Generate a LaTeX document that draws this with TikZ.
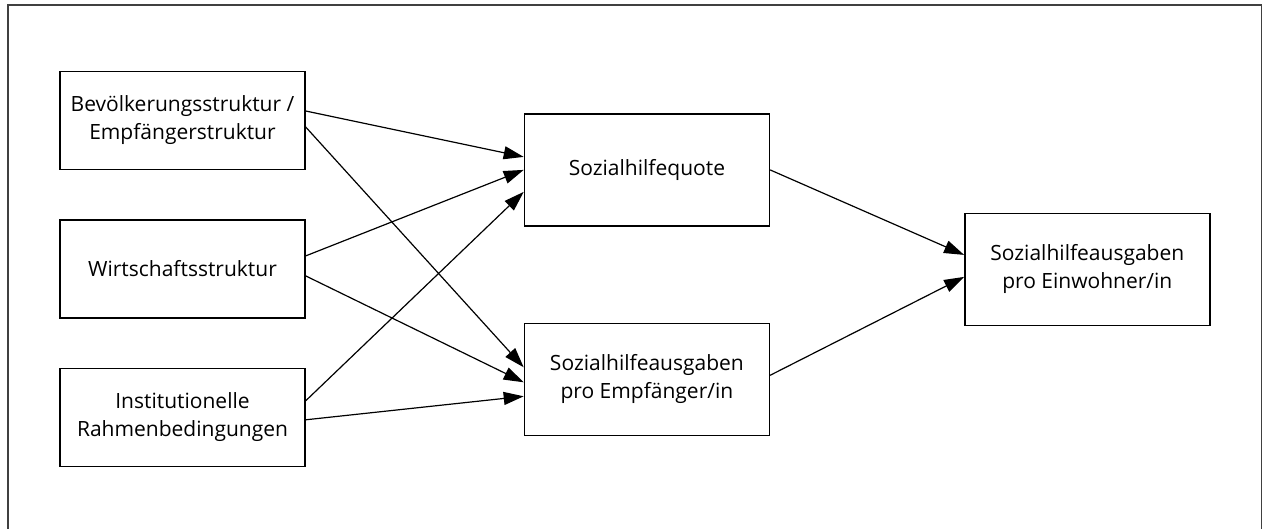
\documentclass[tikz,border=0pt]{standalone}
\usepackage{fontspec}
\setmainfont{Open Sans}
\usetikzlibrary{arrows.meta,positioning}

\begin{document}
\begin{tikzpicture}[
  x=1pt, y=1pt,
  node distance=49pt and 218pt,
  box/.style={draw, line width=1.4pt, align=center, minimum width=245pt, minimum height=98pt, inner sep=2pt, font=\fontsize{21}{28}\selectfont},
  bigbox/.style={box, minimum height=112pt},
  arr/.style={-{Triangle[length=20pt, width=13pt]}, line width=1.2pt}
]
\useasboundingbox (0,0) rectangle (1263,-529);
% outer frame, open at the bottom
\draw[line width=1.6pt, black!75] (8,-540) -- (8,-5) -- (1261.5,-5) -- (1261.5,-540);

\node[box] (bev) at (182.5,-120.5) {Bevölkerungsstruktur /\\Empfängerstruktur};
\node[box, below=of bev] (wirt) {Wirtschaftsstruktur};
\node[box, below=of wirt] (inst) {Institutionelle\\Rahmenbedingungen};
\node[bigbox, right=of wirt, yshift=99pt] (quote) {Sozialhilfequote};
\node[bigbox, below=96pt of quote] (empf) {Sozialhilfeausgaben\\pro Empfänger/in};
\node[bigbox, right=194pt of quote, yshift=-99.5pt] (total) {Sozialhilfeausgaben\\pro Einwohner/in};

\draw[arr] ([yshift=9.5pt]bev.east) -- ([yshift=13pt]quote.west);
\draw[arr] ([yshift=-6.5pt]bev.east) -- ([yshift=12pt]empf.west);
\draw[arr] ([yshift=13pt]wirt.east) -- (quote.west);
\draw[arr] ([yshift=-7pt]wirt.east) -- ([yshift=-3pt]empf.west);
\draw[arr] ([yshift=16.5pt]inst.east) -- ([yshift=-22pt]quote.west);
\draw[arr] ([yshift=-2.5pt]inst.east) -- ([yshift=-17pt]empf.west);
\draw[arr] (quote.east) -- ([yshift=14.5pt]total.west);
\draw[arr] ([yshift=4pt]empf.east) -- ([yshift=-7.5pt]total.west);
\end{tikzpicture}
\end{document}
